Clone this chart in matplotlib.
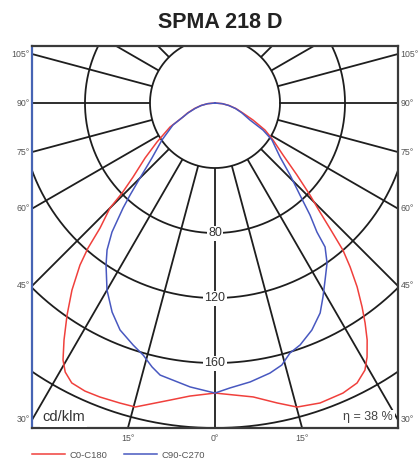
#!/usr/bin/env python3
"""Polar light distribution (cd/klm) for SPMA 218 D, drawn on a cartesian frame."""
import matplotlib

matplotlib.use("Agg")
import matplotlib.pyplot as plt
import numpy as np

plt.rcParams["font.family"] = ["Liberation Sans", "DejaVu Sans"]

TITLE = "SPMA 218 D"
UNIT_LABEL = "cd/klm"
EFF_LABEL = "η = 38 %"

# gamma angle (deg from nadir) and intensity (cd/klm)
c0_gamma = [0, 7.4, 11.7, 15.1, 19.3, 23.8, 26.9, 29.3, 30.9, 32.7, 34.3, 35.8, 37.7, 39.5,
            41.0, 42.3, 43.9, 45.9, 48.7, 52.6, 57.5, 61.6, 65.9, 70, 75, 80, 85, 90]
c0_cd = [178.5, 182.4, 188.5, 193.8, 195.6, 195.1, 193.2, 188.5, 182.2, 173.3, 163.9, 154.7, 143.0, 130.7,
         120.0, 106.5, 93.1, 81.4, 67.1, 52.7, 42.3, 35.0, 25.6, 18.5, 13.5, 8.8, 4.6, 0]

c180_gamma = [0, 4.9, 8.6, 14.7, 17.6, 21.4, 24.3, 27.1, 29.1, 30.6, 32.5, 34.9, 37.4, 39.8,
              41.2, 42.6, 45.0, 45.9, 47.9, 51.8, 56.1, 61.9, 66.4, 70, 75, 80, 85, 90]
c180_cd = [178.5, 181.0, 184.9, 193.4, 193.7, 194.3, 194.5, 193.5, 189.5, 183.7, 172.9, 159.1, 144.9, 129.8,
           118.6, 104.5, 91.4, 79.6, 68.0, 54.8, 43.0, 31.4, 21.5, 18.0, 13.0, 8.7, 4.5, 0]

c90_gamma = [0, 3, 7.2, 11.5, 14.3, 16.7, 19.4, 23.1, 26.6, 29.1, 31.9, 35.0, 37.4, 38.3,
             40.3, 42.7, 46.2, 50.3, 57.0, 60.6, 64.1, 70, 75, 80, 85, 90]
c90_cd = [178.5, 175.6, 173.0, 169.6, 166.4, 160.6, 157.8, 151.9, 144.5, 136.6, 128.2, 120.2, 111.5, 101.2,
          90.4, 77.1, 64.0, 52.0, 41.8, 33.9, 23.9, 17.5, 13.0, 8.5, 4.5, 0]

c270_gamma = [0, 5, 11.4, 13.4, 15.9, 18.7, 22.7, 26.2, 30.0, 33.9, 36.3, 38.6, 41.2, 42.7,
              45.0, 48.9, 55.1, 62.4, 70, 75, 80, 85, 90]
c270_cd = [178.5, 175.4, 170.8, 167.0, 161.3, 157.2, 151.4, 143.4, 132.9, 120.2, 112.2, 101.6, 85.9, 77.1,
           65.3, 51.5, 39.8, 29.2, 17.5, 12.5, 8.5, 4.5, 0]

ring_cd = [40, 80, 120, 160, 200]
ring_labels = [80, 120, 160]
ray_step = 15
side_angles = [105, 90, 75, 60, 45, 30]
bottom_angles = [-15, 0, 15]

legend_labels = ["C0-C180", "C90-C270"]

# frame in cd/klm units, centre of the diagram at (0, 0)
X_HALF = 112.6
Y_TOP = 35.1
Y_BOT = -200.0

RED = "#f0403c"
BLUE = "#4858c0"
GRID = "#1e1e1e"
TXT = "#555555"


def half_xy(gamma, cd, side):
    g = np.radians(np.asarray(gamma, dtype=float))
    r = np.asarray(cd, dtype=float)
    return side * r * np.sin(g), -r * np.cos(g)


def curve_xy(gamma_r, cd_r, gamma_l, cd_l):
    xl, yl = half_xy(gamma_l, cd_l, -1)
    xr, yr = half_xy(gamma_r, cd_r, 1)
    return np.concatenate([xl[::-1], xr]), np.concatenate([yl[::-1], yr])


def main():
    W, H = 419, 461
    fig = plt.figure(figsize=(W / 100, H / 100), dpi=100)
    ax = fig.add_axes([32 / W, 1 - 428 / H, 366 / W, 382 / H])
    ax.set_xlim(-X_HALF, X_HALF)
    ax.set_ylim(Y_BOT, Y_TOP)
    ax.set_xticks([])
    ax.set_yticks([])
    for name, sp in ax.spines.items():
        sp.set_linewidth(1.6)
        sp.set_color("#3a3a3a")
    ax.spines["left"].set_color("#4664b4")

    # grid: rings and rays
    t = np.linspace(0, 2 * np.pi, 721)
    for r in ring_cd:
        ax.plot(r * np.cos(t), r * np.sin(t), color=GRID, lw=1.3, zorder=1)
    for a in np.arange(0, 360, ray_step):
        g = np.radians(a)
        ax.plot([40 * np.sin(g), 400 * np.sin(g)], [-40 * np.cos(g), -400 * np.cos(g)],
                color=GRID, lw=1.3, zorder=1, solid_capstyle="butt")

    for r in ring_labels:
        ax.text(0, -r, str(r), ha="center", va="center", fontsize=9, color="#333333", zorder=3,
                bbox=dict(boxstyle="square,pad=0.12", fc="white", ec="none"))

    x, y = curve_xy(c0_gamma, c0_cd, c180_gamma, c180_cd)
    ax.plot(x, y, color=RED, lw=1.1, zorder=4, label=legend_labels[0])
    x, y = curve_xy(c90_gamma, c90_cd, c270_gamma, c270_cd)
    ax.plot(x, y, color=BLUE, lw=1.1, zorder=4, label=legend_labels[1])

    # angle labels around the frame
    for a in side_angles:
        g = np.radians(a)
        yy = -X_HALF * np.cos(g) / np.sin(g)
        lbl = f"{a}°"
        ax.annotate(lbl, (-X_HALF, yy), xytext=(-1.5, 0), textcoords="offset points",
                    ha="right", va="center", fontsize=6.3, color=TXT, annotation_clip=False)
        ax.annotate(lbl, (X_HALF, yy), xytext=(2, 0), textcoords="offset points",
                    ha="left", va="center", fontsize=6.3, color=TXT, annotation_clip=False)
    for a in bottom_angles:
        xx = -Y_BOT * np.tan(np.radians(a))
        ax.annotate(f"{abs(a)}°", (xx, Y_BOT), xytext=(0, -4), textcoords="offset points",
                    ha="center", va="top", fontsize=6.3, color=TXT, annotation_clip=False)

    ax.text(-106.5, -193.5, UNIT_LABEL, ha="left", va="center", fontsize=10.5, color="#333333", zorder=3,
            bbox=dict(boxstyle="square,pad=0.15", fc="white", ec="none"))
    ax.text(109.5, -193.5, EFF_LABEL, ha="right", va="center", fontsize=9, color="#444444", zorder=3,
            bbox=dict(boxstyle="square,pad=0.15", fc="white", ec="none"))

    fig.text(220 / W, 1 - 22.5 / H, TITLE, ha="center", va="center", fontsize=15.5,
             fontweight="bold", color="#222222")

    fs = 6.8
    fig.legend(loc="center left", bbox_to_anchor=(32 / W, 1 - 455 / H), ncol=2, frameon=False,
               fontsize=fs, handlelength=3.5, handletextpad=0.5, columnspacing=1.7,
               borderpad=0, borderaxespad=0, labelcolor=TXT)

    fig.savefig("out.png", dpi=100)
    plt.close(fig)


if __name__ == "__main__":
    main()
